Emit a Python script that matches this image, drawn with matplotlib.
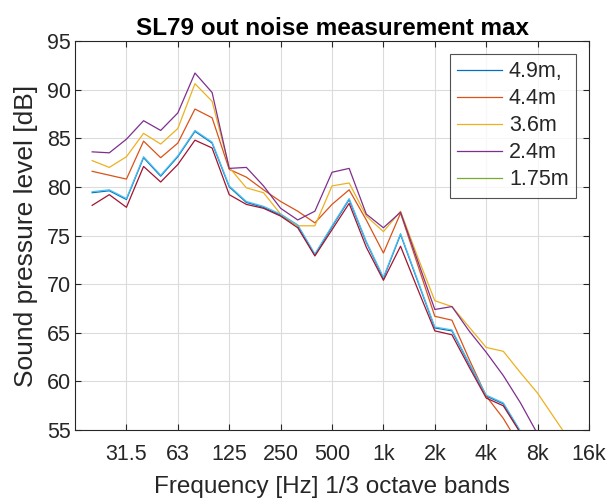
"""
plot.py - SL79 outdoor noise, max levels per 1/3 octave band at several distances.
"""
import matplotlib
matplotlib.use("Agg")
import matplotlib.pyplot as plt
from matplotlib.lines import Line2D

plt.rcParams["font.family"] = ["Liberation Sans", "DejaVu Sans"]

# 1/3 octave band centres from 16 Hz to 16 kHz (axis range), data from 20 Hz
bands = ["16", "20", "25", "31.5", "40", "50", "63", "80", "100", "125", "160",
         "200", "250", "315", "400", "500", "630", "800", "1k", "1.25k", "1.6k",
         "2k", "2.5k", "3.15k", "4k", "5k", "6.3k", "8k", "10k", "12.5k", "16k"]
tick_labels = ["31.5", "63", "125", "250", "500", "1k", "2k", "4k", "8k", "16k"]

# levels in dB, one value per band starting at 20 Hz
lvl_49 = [79.4, 79.6, 78.7, 83.0, 81.1, 83.1, 85.7, 84.5, 80.0, 78.4, 77.9,
          77.1, 76.0, 73.0, 75.9, 78.7, 74.3, 70.6, 75.1, 70.3, 65.5, 65.2,
          61.8, 58.5, 57.7, 54.8]
lvl_44 = [81.6, 81.2, 80.8, 84.7, 83.0, 84.5, 88.0, 87.1, 81.8, 81.0, 79.7,
          78.5, 77.5, 76.3, 78.2, 79.7, 76.6, 73.2, 77.3, 72.0, 66.7, 66.3,
          62.3, 58.5, 56.2, 53.3]
lvl_36 = [82.7, 82.0, 83.1, 85.5, 84.4, 86.0, 90.6, 88.8, 82.0, 79.9, 79.4,
          77.2, 76.0, 76.0, 80.1, 80.4, 77.0, 75.4, 77.5, 72.8, 68.3, 67.7,
          65.6, 63.5, 63.1, 60.9, 58.8, 56.2, 53.6]
lvl_24 = [83.6, 83.5, 84.9, 86.8, 85.8, 87.6, 91.7, 89.7, 81.9, 82.0, 80.1,
          77.8, 76.6, 77.5, 81.5, 81.9, 77.2, 75.8, 77.4, 72.4, 67.4, 67.7,
          65.2, 63.0, 60.6, 57.8, 54.6]
lvl_x6 = [79.5, 79.7, 78.8, 83.1, 81.2, 83.2, 85.8, 84.6, 80.1, 78.5, 78.0,
          77.2, 76.1, 73.1, 76.0, 78.8, 74.4, 70.7, 75.2, 70.4, 65.6, 65.3,
          61.9, 58.6, 57.8, 54.9]
lvl_x7 = [78.1, 79.2, 77.9, 82.1, 80.5, 82.3, 84.8, 84.0, 79.2, 78.2, 77.8,
          77.0, 75.8, 72.9, 75.6, 78.3, 73.8, 70.4, 73.9, 69.5, 65.2, 64.8,
          61.5, 58.3, 57.5, 54.7]

labels = ["4.9m,", "4.4m", "3.6m", "2.4m", "1.75m"]
COL = ["#0072BD", "#D95319", "#EDB120", "#7E2F8E", "#77AC30", "#4DBEEE", "#A2142F"]
AX = "#262626"

fig = plt.figure(figsize=(6.11, 4.99), dpi=100)
ax = fig.add_axes([0.1228, 0.138, 0.8412, 0.78])

series = [lvl_49, lvl_44, lvl_36, lvl_24]
handles = []
for vals, c, lab in zip(series, COL[:4], labels[:4]):
    x = list(range(1, 1 + len(vals)))
    h, = ax.plot(x, vals, color=c, lw=0.9, label=lab, zorder=3)
    handles.append(h)
# 1.75m trace sits underneath the others in the source figure
handles.append(Line2D([], [], color=COL[4], lw=0.9, label=labels[4]))
for vals, c in [(lvl_x6, COL[5]), (lvl_x7, COL[6])]:
    ax.plot(range(1, 1 + len(vals)), vals, color=c, lw=0.9, zorder=3)

ticks = [bands.index(t) for t in tick_labels]
ax.set_xticks(ticks)
ax.set_xticklabels(tick_labels)
ax.set_xlim(0, len(bands) - 1)
ax.set_ylim(55, 95)
ax.set_yticks(range(55, 96, 5))

ax.grid(True, color="#dcdcdc", lw=0.8, zorder=0)
ax.tick_params(direction="in", length=4, width=0.8, colors=AX, labelsize=15.5,
               top=True, right=True, labelcolor=AX)
ax.tick_params(axis="y", pad=3)
ax.tick_params(axis="x", pad=10)
for sp in ax.spines.values():
    sp.set_color(AX)
    sp.set_linewidth(0.8)

ax.set_title("SL79 out noise measurement max", fontsize=17.5, fontweight="bold",
             color="black", pad=4)
ax.set_xlabel("Frequency [Hz] 1/3 octave bands", fontsize=17.5, color=AX, labelpad=8)
ax.set_ylabel("Sound pressure level [dB]", fontsize=19, color=AX, labelpad=6)

leg = ax.legend(handles=handles, loc="upper right", fontsize=15.5, frameon=True,
                fancybox=False, handlelength=2.1, handletextpad=0.3,
                labelspacing=0.28, borderpad=0.35, borderaxespad=0.6)
leg.get_frame().set_edgecolor(AX)
leg.get_frame().set_linewidth(0.8)
for t in leg.get_texts():
    t.set_color(AX)

fig.savefig("out.png", dpi=100)
